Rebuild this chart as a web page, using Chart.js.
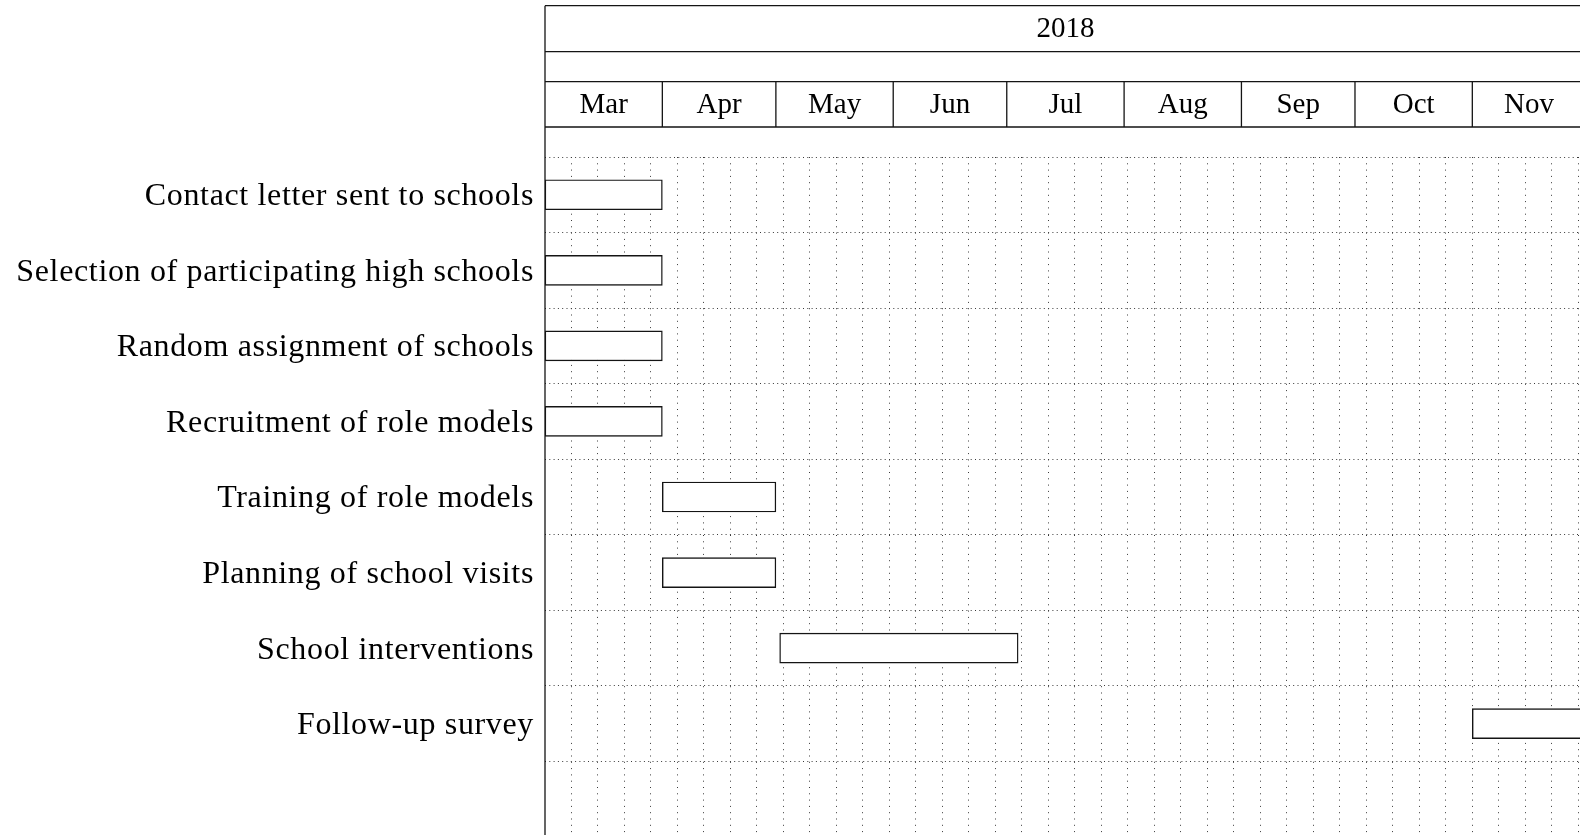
<!DOCTYPE html>
<html>
<head>
<meta charset="utf-8">
<script src="https://cdn.jsdelivr.net/npm/chart.js@4/dist/chart.umd.min.js"></script>
<style>
    html, body { margin: 0; padding: 0; background: #fff; overflow: hidden; }
    canvas { display: block; }
</style>
</head>
<body>
<canvas id="gantt-chart" width="1580" height="837"></canvas>
<script>
// Tasks (top to bottom) with start / end dates (end is exclusive)
const tasks = [
    'Contact letter sent to schools',
    'Selection of participating high schools',
    'Random assignment of schools',
    'Recruitment of role models',
    'Training of role models',
    'Planning of school visits',
    'School interventions',
    'Follow-up survey'
];
const taskStart = ['2018-03-01', '2018-03-01', '2018-03-01', '2018-03-01', '2018-04-01', '2018-04-01', '2018-05-02', '2018-11-01'];
const taskEnd   = ['2018-04-01', '2018-04-01', '2018-04-01', '2018-04-01', '2018-05-01', '2018-05-01', '2018-07-04', '2018-12-01'];

// Header
const yearLabel = '2018';
const months = ['Mar', 'Apr', 'May', 'Jun', 'Jul', 'Aug', 'Sep', 'Oct', 'Nov'];
const monthStart = ['2018-03-01', '2018-04-01', '2018-05-01', '2018-06-01', '2018-07-01', '2018-08-01', '2018-09-01', '2018-10-01', '2018-11-01', '2018-12-01'];

const origin = '2018-03-01';
const weekStep = 7;
const visibleDays = 273.45; // chart is cut at the right edge of the picture

function dayOffset(d) {
    return (Date.parse(d) - Date.parse(origin)) / 86400000;
}

const FONT = '"Liberation Serif", "DejaVu Serif", serif';
const INK = '#141414';

const spans = tasks.map((t, i) => [dayOffset(taskStart[i]), dayOffset(taskEnd[i])]);
spans.push(null);

// wider spacing so the serif labels come closer to the TeX look
const spacingPlugin = {
    id: 'spacing',
    beforeDraw(chart) { chart.ctx.letterSpacing = '0.65px'; }
};

const headerPlugin = {
    id: 'header',
    afterDraw(chart) {
        const ctx = chart.ctx;
        const x = chart.scales.x;
        const area = chart.chartArea;
        const left = area.left;
        const right = chart.width;
        const rows = [5.7, 51.7, 81.7, 127];

        ctx.letterSpacing = '0px';
        ctx.save();
        ctx.strokeStyle = INK;
        ctx.lineWidth = 1.3;
        ctx.setLineDash([]);
        ctx.beginPath();
        rows.forEach(y => { ctx.moveTo(left, y); ctx.lineTo(right, y); });
        ctx.moveTo(left, rows[0]);
        ctx.lineTo(left, chart.height);
        monthStart.forEach(m => {
            const px = x.getPixelForValue(dayOffset(m));
            if (px > left + 1 && px < right) {
                ctx.moveTo(px, rows[2]);
                ctx.lineTo(px, rows[3]);
            }
        });
        ctx.stroke();

        ctx.fillStyle = '#000';
        ctx.font = '29px ' + FONT;
        ctx.textAlign = 'center';
        ctx.textBaseline = 'middle';
        months.forEach((m, i) => {
            const a = x.getPixelForValue(dayOffset(monthStart[i]));
            const b = x.getPixelForValue(dayOffset(monthStart[i + 1]));
            ctx.fillText(m, (a + b) / 2, (rows[2] + rows[3]) / 2 + 1);
        });
        const ya = x.getPixelForValue(0);
        const yb = x.getPixelForValue(dayOffset(monthStart[monthStart.length - 1]));
        ctx.fillText(yearLabel, (ya + yb) / 2, (rows[0] + rows[1]) / 2 + 1);
        ctx.restore();
    }
};

new Chart(document.getElementById('gantt-chart'), {
    type: 'bar',
    data: {
        labels: tasks.concat(['']),
        datasets: [{
            data: spans,
            backgroundColor: '#fff',
            borderColor: INK,
            borderWidth: 1.4,
            borderSkipped: false,
            barThickness: 30
        }]
    },
    options: {
        indexAxis: 'y',
        responsive: false,
        animation: false,
        layout: { padding: { top: 157, right: 0, bottom: 0, left: 0 } },
        plugins: {
            legend: { display: false },
            tooltip: { enabled: false }
        },
        scales: {
            x: {
                type: 'linear',
                position: 'top',
                min: 0,
                max: visibleDays,
                afterBuildTicks(scale) {
                    const ticks = [];
                    for (let v = weekStep; v <= visibleDays; v += weekStep) ticks.push({ value: v });
                    scale.ticks = ticks;
                },
                afterFit(scale) {
                    scale.height = 0;
                    scale.paddingLeft = 0;
                    scale.paddingRight = 0;
                },
                ticks: { display: false, stepSize: weekStep },
                grid: { drawTicks: false, color: '#3a3a3a', lineWidth: 1 },
                border: { display: false, dash: [1, 5.3] }
            },
            y: {
                type: 'category',
                afterFit(scale) {
                    scale.width = 545;
                    scale.paddingTop = 0;
                    scale.paddingBottom = 0;
                },
                ticks: {
                    color: '#000',
                    padding: 11,
                    labelOffset: 2,
                    font: { family: FONT, size: 32 }
                },
                grid: { offset: true, drawTicks: false, color: '#3a3a3a', lineWidth: 1 },
                border: { display: false, dash: [1, 3.3] }
            }
        }
    },
    plugins: [spacingPlugin, headerPlugin]
});
</script>
</body>
</html>
